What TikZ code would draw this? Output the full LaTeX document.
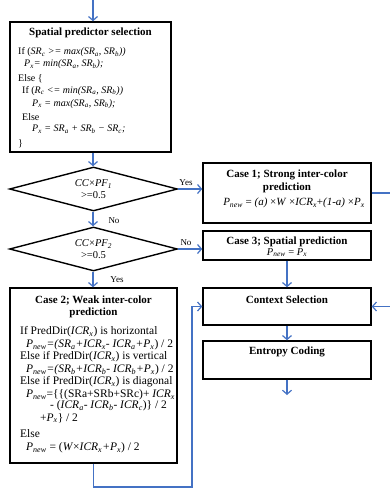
\documentclass[tikz,border=0pt]{standalone}
\usepackage{fontspec}
\setmainfont{Liberation Serif}
\usetikzlibrary{arrows.meta,shapes.geometric}
\definecolor{arrblue}{RGB}{68,114,196}
\newcommand\sbs[1]{\textsubscript{#1}}
\begin{document}
\begin{tikzpicture}[x=1pt,y=-1pt,
  box/.style={draw,line width=1.4pt,rectangle,inner sep=0pt},
  dia/.style={draw,line width=1.4pt,diamond,aspect=3.8,inner sep=0pt,minimum width=168pt,minimum height=44pt,align=center,font=\fontsize{10.5}{12}\selectfont},
  flow/.style={draw=arrblue,line width=1.2pt,-{Straight Barb[length=4pt,width=9pt]}},
  ttl/.style={font=\fontsize{11}{12}\selectfont\bfseries,inner sep=0pt,anchor=center},
  txt/.style={font=\fontsize{10}{11}\selectfont,inner sep=0pt,anchor=west},
  wtxt/.style={font=\fontsize{11.5}{12}\selectfont,inner sep=0pt,anchor=west},
  lbl/.style={font=\fontsize{9}{10}\selectfont,inner sep=0pt}]
\useasboundingbox (0,0) rectangle (390,488);
% boxes
\node[box,minimum width=161pt,minimum height=130pt] (sp) at (90.5,87) {};
\node[dia] (d1) at (93.5,189) {\textit{CC}×\textit{PF\sbs{1}}\\>=0.5};
\node[dia] (d2) at (93.5,249) {\textit{CC}×\textit{PF\sbs{2}}\\>=0.5};
\node[box,minimum width=168pt,minimum height=60pt] (c1) at (287,193) {};
\node[box,minimum width=168pt,minimum height=29pt] (c3) at (287,245.5) {};
\node[box,minimum width=168pt,minimum height=37pt] (ctx) at (287,306.5) {};
\node[box,minimum width=168pt,minimum height=38pt] (ent) at (287,360) {};
\node[box,minimum width=167pt,minimum height=175pt] (c2) at (93.5,375.5) {};
% spatial box text
\node[ttl] (spt) at (90.5,33) {Spatial predictor selection};
\node[txt] (s1) at (18,52.5) {If (\textit{SR\sbs{c} >= max(SR\sbs{a}, SR\sbs{b}))}};
\node[txt] (s2) at (24,64.5) {\textit{P\sbs{x}= min(SR\sbs{a}, SR\sbs{b});}};
\node[txt] (s3) at (18,79) {Else \{};
\node[txt] (s4) at (22,91) {If (\textit{R\sbs{c} <= min(SR\sbs{a}, SR\sbs{b}))}};
\node[txt] (s5) at (32,104) {\textit{P\sbs{x} = max(SR\sbs{a}, SR\sbs{b});}};
\node[txt] (s6) at (22,117.5) {Else};
\node[txt] (s7) at (32,129) {\textit{P\sbs{x} = SR\sbs{a} + SR\sbs{b} − SR\sbs{c};}};
\node[txt] (s8) at (18,144) {\}};
% case 1
\node[ttl] (c1t1) at (287,175) {Case 1; Strong inter-color};
\node[ttl] (c1t2) at (287,188) {prediction};
\node[txt,anchor=center,font=\fontsize{11}{12}\selectfont] (c1f) at (294,203) {\textit{P\sbs{new}} = \textit{(a)} ×\textit{W} ×\textit{ICR\sbs{x}}+\textit{(1-a)} ×\textit{P\sbs{x}}};
% case 3
\node[ttl] (c3t) at (287,241.5) {Case 3; Spatial prediction};
\node[txt,anchor=center,font=\fontsize{10.5}{12}\selectfont] (c3f) at (287,252.5) {\textit{P\sbs{new}} = \textit{P\sbs{x}}};
% context / entropy
\node[ttl] (ctxt) at (287,300) {Context Selection};
\node[ttl] (entt) at (287,352) {Entropy Coding};
% case 2
\node[ttl] (c2t1) at (93.5,301) {Case 2; Weak inter-color};
\node[ttl] (c2t2) at (93.5,313) {prediction};
\node[wtxt] (w1) at (20,332) {If PredDir(\textit{ICR\sbs{x}}) is horizontal};
\node[wtxt] (w2) at (26,345) {\textit{P\sbs{new}=(SR\sbs{a}+ICR\sbs{x}- ICR\sbs{a}+P\sbs{x}}) / 2};
\node[wtxt] (w3) at (20,357) {Else if PredDir(\textit{ICR\sbs{x}}) is vertical};
\node[wtxt] (w4) at (26,369.5) {\textit{P\sbs{new}=(SR\sbs{b}+ICR\sbs{b}- ICR\sbs{b}+P\sbs{x}}) / 2};
\node[wtxt] (w5) at (20,382) {Else if PredDir(\textit{ICR\sbs{x}}) is diagonal};
\node[wtxt] (w6) at (26,394.5) {\textit{P\sbs{new}}=\{\{(SRa+SRb+SRc)+ \textit{ICR\sbs{x}}};
\node[wtxt] (w7) at (50,406) {- (\textit{ICR\sbs{a}- ICR\sbs{b}- ICR\sbs{c}})\} / 2};
\node[wtxt] (w8) at (40,418) {+\textit{P\sbs{x}}\} / 2};
\node[wtxt] (w9) at (20,434) {Else};
\node[wtxt] (w10) at (26,447.5) {\textit{P\sbs{new}} = (\textit{W}×\textit{ICR\sbs{x}+P\sbs{x}}) / 2};
% labels
\node[lbl] (y1) at (186,183) {Yes};
\node[lbl] (n2) at (186,243) {No};
\node[lbl] (n1) at (114,221) {No};
\node[lbl] (y2) at (117,280) {Yes};
% connectors
\coordinate (top) at (93,0);
\coordinate (lb) at (192,487);
\coordinate (rb) at (396,0);
\coordinate (bot) at (287,395);
\draw[flow] (top) -- (top |- sp.north);
\draw[flow] (top |- sp.south) -- (top |- d1.north);
\draw[flow] (top |- d1.south) -- (top |- d2.north);
\draw[flow] (top |- d2.south) -- (top |- c2.north);
\draw[flow] (d1.east) -- (d1.east -| c1.west);
\draw[flow] (d2.east) -- (d2.east -| c3.west);
\draw[flow] (c3.south) -- (ctx.north);
\draw[flow] (ctx.south) -- (ent.north);
\draw[flow] (ent.south) -- (bot);
\draw[flow] (c2.south) |- (lb) |- (ctx.west);
\draw[flow] (c1.east) -- (c1.east -| rb) |- (ctx.east);
\end{tikzpicture}
\end{document}
